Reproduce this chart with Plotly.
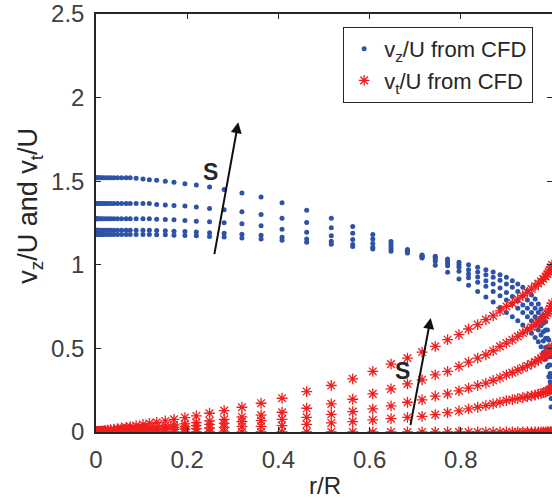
import plotly.graph_objects as go

# radial grid r/R
r = [0.000, 0.002, 0.004, 0.007, 0.011, 0.015, 0.020, 0.026, 0.032, 0.039,
     0.047, 0.056, 0.066, 0.075, 0.088, 0.103, 0.117, 0.133, 0.152, 0.171,
     0.195, 0.220, 0.249, 0.281, 0.320, 0.362, 0.408, 0.462, 0.516, 0.563,
     0.607, 0.647, 0.683, 0.715, 0.744, 0.771, 0.796, 0.817, 0.837, 0.855,
     0.871, 0.886, 0.900, 0.913, 0.925, 0.936, 0.946, 0.955, 0.963, 0.970,
     0.976, 0.981, 0.986, 0.990, 0.993, 0.996, 0.998, 1.000]

# axial velocity vz/U, five swirl levels
vz_1 = [1.521, 1.521, 1.521, 1.521, 1.521, 1.521, 1.521, 1.521, 1.521, 1.521,
        1.521, 1.521, 1.521, 1.520, 1.517, 1.513, 1.509, 1.505, 1.499, 1.493,
        1.485, 1.477, 1.465, 1.451, 1.429, 1.405, 1.371, 1.327, 1.279, 1.229,
        1.181, 1.139, 1.091, 1.040, 0.997, 0.955, 0.915, 0.877, 0.841, 0.807,
        0.777, 0.745, 0.715, 0.690, 0.665, 0.640, 0.615, 0.590, 0.565, 0.540,
        0.510, 0.475, 0.435, 0.390, 0.330, 0.240, 0.150, 0.000]
vz_2 = [1.367, 1.367, 1.367, 1.367, 1.367, 1.367, 1.367, 1.367, 1.367, 1.367,
        1.367, 1.367, 1.367, 1.367, 1.367, 1.367, 1.367, 1.361, 1.357, 1.355,
        1.351, 1.345, 1.337, 1.329, 1.317, 1.301, 1.279, 1.253, 1.221, 1.189,
        1.155, 1.125, 1.085, 1.045, 1.021, 0.995, 0.961, 0.923, 0.895, 0.871,
        0.841, 0.815, 0.790, 0.765, 0.740, 0.715, 0.690, 0.665, 0.640, 0.610,
        0.580, 0.545, 0.505, 0.460, 0.400, 0.300, 0.200, 0.000]
vz_3 = [1.275, 1.275, 1.275, 1.275, 1.275, 1.275, 1.275, 1.275, 1.275, 1.275,
        1.275, 1.275, 1.275, 1.275, 1.275, 1.275, 1.275, 1.273, 1.271, 1.269,
        1.265, 1.261, 1.257, 1.251, 1.245, 1.233, 1.213, 1.195, 1.173, 1.151,
        1.127, 1.109, 1.080, 1.050, 1.035, 1.011, 0.985, 0.945, 0.927, 0.905,
        0.885, 0.861, 0.835, 0.810, 0.785, 0.760, 0.740, 0.715, 0.690, 0.665,
        0.635, 0.600, 0.560, 0.510, 0.450, 0.350, 0.250, 0.000]
vz_4 = [1.207, 1.207, 1.207, 1.207, 1.207, 1.207, 1.207, 1.207, 1.207, 1.207,
        1.207, 1.207, 1.207, 1.207, 1.207, 1.207, 1.207, 1.205, 1.203, 1.201,
        1.199, 1.196, 1.192, 1.188, 1.183, 1.176, 1.165, 1.155, 1.141, 1.121,
        1.105, 1.095, 1.075, 1.055, 1.045, 1.025, 1.001, 0.971, 0.957, 0.941,
        0.925, 0.907, 0.885, 0.865, 0.840, 0.815, 0.790, 0.765, 0.740, 0.715,
        0.685, 0.650, 0.610, 0.560, 0.500, 0.400, 0.290, 0.000]
vz_5 = [1.181, 1.181, 1.181, 1.181, 1.181, 1.181, 1.181, 1.181, 1.181, 1.181,
        1.181, 1.181, 1.181, 1.181, 1.181, 1.181, 1.181, 1.180, 1.179, 1.177,
        1.175, 1.173, 1.170, 1.166, 1.161, 1.155, 1.147, 1.135, 1.123, 1.109,
        1.095, 1.081, 1.070, 1.059, 1.051, 1.035, 1.015, 1.001, 0.985, 0.971,
        0.957, 0.941, 0.925, 0.905, 0.885, 0.865, 0.845, 0.820, 0.795, 0.765,
        0.735, 0.700, 0.660, 0.610, 0.550, 0.450, 0.330, 0.000]

# tangential velocity vt/U, five swirl levels
vt_1 = [0.000, 0.001, 0.002, 0.003, 0.005, 0.006, 0.009, 0.011, 0.014, 0.017,
        0.020, 0.024, 0.028, 0.032, 0.038, 0.045, 0.052, 0.058, 0.066, 0.076,
        0.086, 0.096, 0.112, 0.128, 0.148, 0.172, 0.202, 0.242, 0.278, 0.318,
        0.362, 0.406, 0.442, 0.478, 0.512, 0.552, 0.582, 0.616, 0.642, 0.672,
        0.695, 0.724, 0.751, 0.772, 0.795, 0.815, 0.835, 0.855, 0.872, 0.888,
        0.902, 0.915, 0.930, 0.945, 0.957, 0.970, 0.985, 1.000]
vt_2 = [0.000, 0.001, 0.001, 0.002, 0.003, 0.004, 0.005, 0.006, 0.008, 0.009,
        0.011, 0.013, 0.016, 0.018, 0.021, 0.025, 0.028, 0.032, 0.036, 0.042,
        0.048, 0.056, 0.066, 0.076, 0.090, 0.101, 0.118, 0.142, 0.168, 0.196,
        0.228, 0.258, 0.288, 0.312, 0.342, 0.362, 0.392, 0.418, 0.442, 0.462,
        0.486, 0.512, 0.532, 0.552, 0.572, 0.592, 0.610, 0.627, 0.643, 0.657,
        0.670, 0.683, 0.697, 0.710, 0.722, 0.737, 0.752, 0.770]
vt_3 = [0.000, 0.000, 0.001, 0.001, 0.002, 0.003, 0.003, 0.004, 0.005, 0.006,
        0.007, 0.009, 0.010, 0.012, 0.014, 0.016, 0.018, 0.020, 0.024, 0.028,
        0.032, 0.038, 0.046, 0.052, 0.062, 0.068, 0.076, 0.088, 0.106, 0.122,
        0.138, 0.156, 0.178, 0.192, 0.214, 0.228, 0.246, 0.262, 0.278, 0.292,
        0.308, 0.324, 0.342, 0.355, 0.370, 0.383, 0.396, 0.408, 0.420, 0.431,
        0.441, 0.451, 0.461, 0.471, 0.480, 0.490, 0.500, 0.510]
vt_4 = [0.000, 0.000, 0.000, 0.000, 0.001, 0.001, 0.002, 0.002, 0.003, 0.003,
        0.004, 0.005, 0.006, 0.007, 0.008, 0.009, 0.010, 0.012, 0.014, 0.016,
        0.018, 0.020, 0.024, 0.028, 0.032, 0.034, 0.038, 0.046, 0.054, 0.062,
        0.072, 0.080, 0.087, 0.094, 0.104, 0.116, 0.126, 0.138, 0.148, 0.158,
        0.168, 0.178, 0.188, 0.194, 0.200, 0.206, 0.211, 0.216, 0.221, 0.226,
        0.230, 0.235, 0.239, 0.244, 0.248, 0.252, 0.256, 0.262]
vt_5 = [0.000, 0.000, 0.000, 0.000, 0.000, 0.000, 0.000, 0.000, 0.000, 0.000,
        0.000, 0.000, 0.000, 0.000, 0.000, 0.000, 0.000, 0.000, 0.000, 0.000,
        0.000, 0.000, 0.000, 0.000, 0.000, 0.000, 0.000, 0.000, 0.000, 0.000,
        0.000, 0.000, 0.000, 0.000, 0.000, 0.000, 0.000, 0.000, 0.000, 0.000,
        0.000, 0.000, 0.000, 0.000, 0.000, 0.000, 0.000, 0.000, 0.000, 0.000,
        0.000, 0.000, 0.000, 0.000, 0.000, 0.000, 0.000, 0.000]

vz_series = [vz_1, vz_2, vz_3, vz_4, vz_5]
vt_series = [vt_1, vt_2, vt_3, vt_4, vt_5]

x_ticks = [0, 0.2, 0.4, 0.6, 0.8, 1]
x_tick_text = ["0", "0.2", "0.4", "0.6", "0.8", "1"]
y_ticks = [0, 0.5, 1, 1.5, 2, 2.5]
y_tick_text = ["0", "0.5", "1", "1.5", "2", "2.5"]

FONT = "Liberation Sans, Arial, Helvetica, sans-serif"
AXC = "#262626"

bx, by, rx, ry = [], [], [], []
for s in vz_series:
    bx += r
    by += s
for s in vt_series:
    rx += r
    ry += s

fig = go.Figure()
fig.add_trace(go.Scatter(
    x=bx, y=by, mode="markers", name="v<sub>z</sub>/U from CFD",
    marker=dict(symbol="circle", size=5, color="#2E52A6", line=dict(width=0)),
))
fig.add_trace(go.Scatter(
    x=rx, y=ry, mode="markers", name="v<sub>t</sub>/U from CFD",
    marker=dict(symbol="asterisk-open", size=9, color="#F01E1E",
                line=dict(width=1.3, color="#F01E1E")),
))

# arrows indicating increasing S
fig.add_annotation(x=0.312, y=1.853, ax=0.259, ay=1.055, xref="x", yref="y",
                   axref="x", ayref="y", showarrow=True, arrowhead=2,
                   arrowsize=1.1, arrowwidth=2, arrowcolor="#111111", text="")
fig.add_annotation(x=0.734, y=0.682, ax=0.689, ay=0.032, xref="x", yref="y",
                   axref="x", ayref="y", showarrow=True, arrowhead=2,
                   arrowsize=1.1, arrowwidth=2, arrowcolor="#111111", text="")
fig.add_annotation(x=0.251, y=1.555, xref="x", yref="y", text="<b>S</b>",
                   showarrow=False, font=dict(family=FONT, size=23, color="#262626"))
fig.add_annotation(x=0.672, y=0.362, xref="x", yref="y", text="<b>S</b>",
                   showarrow=False, font=dict(family=FONT, size=23, color="#262626"))

# axis titles
fig.add_annotation(x=-0.145, y=0.541, xref="paper", yref="paper",
                   xanchor="center", yanchor="middle",
                   text="v<sub>z</sub>/U and v<sub>t</sub>/U", textangle=-90,
                   showarrow=False, font=dict(family=FONT, size=27, color="#262626"))
fig.add_annotation(x=0.502, y=-0.127, xref="paper", yref="paper", text="r/R",
                   xanchor="center", yanchor="middle",
                   showarrow=False, font=dict(family=FONT, size=24, color="#262626"))

fig.update_layout(
    width=552, height=503,
    margin=dict(l=96, r=0, t=14, b=71),
    paper_bgcolor="white", plot_bgcolor="white",
    font=dict(family=FONT, size=24, color="#404040"),
    showlegend=True,
    legend=dict(x=0.542, y=0.969, xanchor="left", yanchor="top",
                bgcolor="white", bordercolor=AXC, borderwidth=1,
                font=dict(family=FONT, size=22, color="#262626")),
)
fig.update_xaxes(range=[0, 1], tickvals=x_ticks, ticktext=x_tick_text,
                 automargin=False,
                 showgrid=False, zeroline=False, showline=True, linecolor=AXC,
                 linewidth=1.5, mirror="ticks", ticks="inside", ticklen=5,
                 tickcolor=AXC, tickwidth=1.2, ticklabelstandoff=5)
fig.update_yaxes(range=[0, 2.5], tickvals=y_ticks, ticktext=y_tick_text,
                 automargin=False,
                 showgrid=False, zeroline=False, showline=True, linecolor=AXC,
                 linewidth=1.5, mirror="ticks", ticks="inside", ticklen=5,
                 tickcolor=AXC, tickwidth=1.2, ticklabelstandoff=5)

fig.write_html("out.html", config={"displayModeBar": False},
               post_script="document.body.style.margin='0';document.body.style.overflow='hidden';")
